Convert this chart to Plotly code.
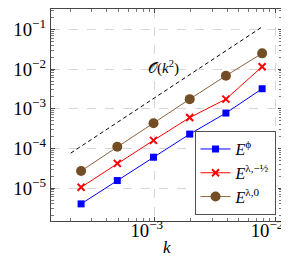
import plotly.graph_objects as go

k = [1/4096, 1/2048, 1/1024, 1/512, 1/256, 1/128]
E_phi = [4.0e-6, 1.55e-5, 6.0e-5, 2.3e-4, 7.8e-4, 3.2e-3]
E_lam_half = [1.05e-5, 4.2e-5, 1.6e-4, 6.0e-4, 1.75e-3, 1.15e-2]
E_lam_0 = [2.7e-5, 1.1e-4, 4.3e-4, 1.75e-3, 6.8e-3, 2.5e-2]

ref_k = [2.0e-4, 7.9e-3]
ref_C = 1900
ref_y = [ref_C * v**2 for v in ref_k]

FONT = "Liberation Serif"
XR = [-3.8625, -1.942]
YR = [-5.83, -0.484]

minor_x = [m * 10.0**e for e in range(-4, -1) for m in range(2, 10)]
minor_y = [m * 10.0**e for e in range(-6, 0) for m in range(2, 10)]

fig = go.Figure()
fig.add_trace(go.Scatter(x=ref_k, y=ref_y, mode="lines", showlegend=False,
                         line=dict(color="black", width=1, dash="4px,3px")))
fig.add_trace(go.Scatter(x=k, y=E_phi, mode="lines+markers", name="<i>E</i><sup>ϕ</sup>",
                         legendgroup="a",
                         line=dict(color="rgb(0,0,255)", width=1),
                         marker=dict(symbol="square", size=7, color="rgb(0,0,255)")))
fig.add_trace(go.Scatter(x=k, y=E_lam_half, mode="lines+markers", name="<i>E</i><sup>λ,−½</sup>",
                         legendgroup="b",
                         line=dict(color="rgb(255,0,0)", width=1),
                         marker=dict(symbol="x-thin", size=7, color="rgb(255,0,0)",
                                     line=dict(color="rgb(255,0,0)", width=2))))
fig.add_trace(go.Scatter(x=k, y=E_lam_0, mode="lines+markers", name="<i>E</i><sup>λ,0</sup>",
                         legendgroup="c",
                         line=dict(color="rgb(140,100,65)", width=1),
                         marker=dict(symbol="circle", size=10, color="rgb(115,77,38)")))
# invisible trace for minor-tick overlay axes
fig.add_trace(go.Scatter(x=[1e-3], y=[1e-3], xaxis="x2", yaxis="y2", mode="markers",
                         marker=dict(opacity=0), showlegend=False, hoverinfo="skip"))

fig.add_annotation(x=-2.93, y=-1.95, xref="x", yref="y", text="𝒪(<i>k</i><sup>2</sup>)",
                   showarrow=False, font=dict(family=FONT, size=15, color="black"))
# x-axis title
fig.add_annotation(x=0.5, y=-0.127, xref="paper", yref="paper", text="<i>k</i>",
                   showarrow=False, yanchor="middle",
                   font=dict(family=FONT, size=17, color="black"))

axis_common = dict(type="log", showline=True, linecolor="rgb(70,70,70)", linewidth=1,
                   mirror="allticks", ticks="inside", ticklen=4, tickcolor="rgb(70,70,70)",
                   showgrid=True, gridcolor="rgb(215,215,215)", griddash="dash", gridwidth=1,
                   dtick=1, exponentformat="power", zeroline=False,
                   tickfont=dict(family=FONT, size=15, color="black"))

fig.update_layout(
    xaxis=dict(**axis_common, range=XR, ticklabelstandoff=-7, ticklabelshift=-8,
               ticklabeloverflow="allow"),
    yaxis=dict(**axis_common, range=YR, ticklabelstandoff=1),
    xaxis2=dict(type="log", range=XR, overlaying="x", anchor="y", side="bottom",
                tickmode="array", tickvals=minor_x, showticklabels=False,
                ticks="inside", ticklen=3, tickcolor="rgb(120,120,120)", mirror="allticks",
                showline=False, showgrid=False, zeroline=False),
    yaxis2=dict(type="log", range=YR, overlaying="y", anchor="x", side="left",
                tickmode="array", tickvals=minor_y, showticklabels=False,
                ticks="inside", ticklen=3, tickcolor="rgb(120,120,120)", mirror="allticks",
                showline=False, showgrid=False, zeroline=False),
    width=289, height=257, margin=dict(l=43, r=15, t=1, b=44),
    plot_bgcolor="white", paper_bgcolor="white",
    font=dict(family=FONT),
    legend=dict(x=0.972, y=0.028, xanchor="right", yanchor="bottom",
                bordercolor="rgb(80,80,80)", borderwidth=1, bgcolor="white",
                font=dict(family=FONT, size=16, color="black"),
                itemwidth=30, tracegroupgap=0),
)

fig.write_html("out.html")
